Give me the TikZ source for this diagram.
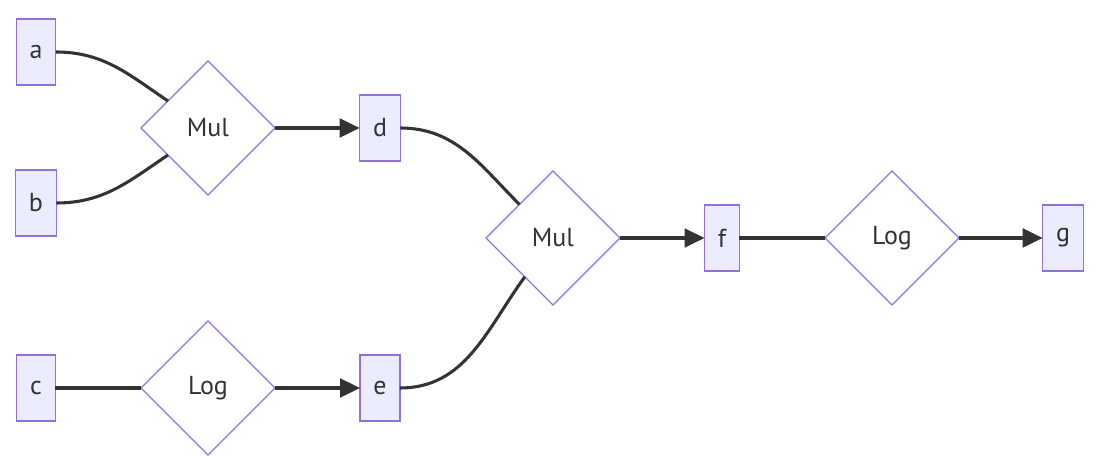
\documentclass[tikz,border=0pt]{standalone}
\usepackage{fontspec}
\setmainfont{PT Sans}
\usetikzlibrary{shapes.geometric, arrows.meta}
\definecolor{nodeline}{HTML}{9370DB}
\definecolor{nodefill}{HTML}{ECECFF}
\definecolor{edgeline}{HTML}{333333}
\begin{document}
\begin{tikzpicture}[x=0.75pt, y=0.75pt,
    every node/.style={font=\fontsize{19.5}{22}\selectfont, text=edgeline},
    var/.style={draw=nodeline, fill=nodefill, line width=0.9pt, inner xsep=10pt, minimum height=49.5pt, outer sep=0pt},
    op/.style={diamond, draw=nodeline, fill=white, line width=0.9pt, inner sep=0pt, minimum width=100.5pt, minimum height=100.5pt, outer sep=0pt},
    link/.style={draw=edgeline, line width=2.3pt},
    flow/.style={link, -{Triangle[length=15pt, width=14pt]}}]
    \useasboundingbox (0, 0) rectangle (1097, 466);
    % inputs
    \node[var] (a) at (36, 414) {a};
    \node[var] (b) at (36, 263) {b};
    \node[var] (c) at (36, 78) {c};
    % first layer
    \node[op] (mul1) at (208, 338) {Mul};
    \node[op] (log1) at (208, 78) {Log};
    \node[var] (d) at (380, 338) {d};
    \node[var] (e) at (380, 78) {e};
    % second layer
    \node[op] (mul2) at (553, 228) {Mul};
    \node[var] (f) at (722, 228) {f};
    \node[op] (log2) at (892, 228) {Log};
    \node[var] (g) at (1063, 228) {g};
    % edges
    \draw[link] (a.east) to[out=0, in=146] (mul1);
    \draw[link] (b.east) to[out=0, in=214] (mul1);
    \draw[link] (c.east) -- (log1);
    \draw[flow] (mul1) -- (d);
    \draw[flow] (log1) -- (e);
    \draw[link] (d.east) to[out=0, in=135] (mul2);
    \draw[link] (e.east) to[out=0, in=234] (mul2);
    \draw[flow] (mul2) -- (f);
    \draw[link] (f) -- (log2);
    \draw[flow] (log2) -- (g);
\end{tikzpicture}
\end{document}
